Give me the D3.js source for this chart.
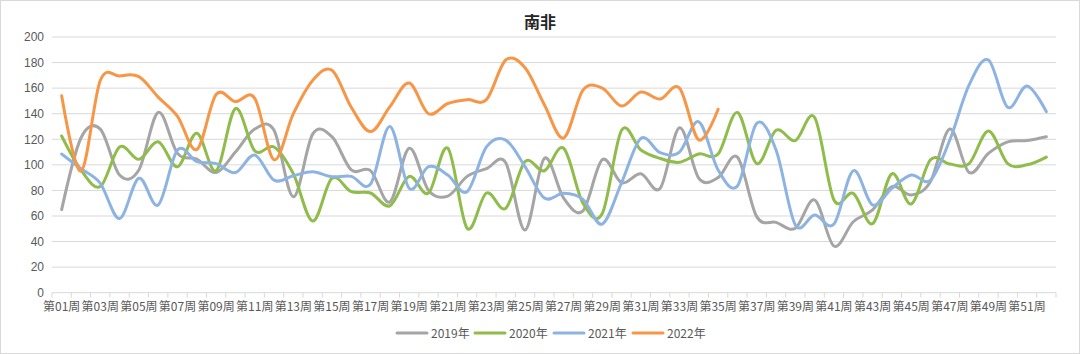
<!DOCTYPE html>
<html><head><meta charset="utf-8">
<script src="https://cdn.jsdelivr.net/npm/d3@7"></script>
<style>
html,body{margin:0;padding:0;background:#fff;}
svg{display:block;font-family:"Microsoft YaHei","Noto Sans CJK SC","DejaVu Sans",sans-serif;}
</style></head>
<body>
<svg id="chart" width="1080" height="354"></svg>
<script>
const title = "南非";
const weeks = d3.range(1, 53).map(i => "第" + String(i).padStart(2, "0") + "周");
const yTicks = [0,20,40,60,80,100,120,140,160,180,200];
const seriesNames = ["2019年","2020年","2021年","2022年"];
const seriesColors = ["#A5A5A5","#8FBC4A","#8DB3E2","#F79646"];

const v2019 = [65,121,128,92,96,141,109,104.5,94,110,128,127,75,124,122,96,95.5,71,113,80,75.6,91,97,101.7,49,105,74,64,104,86,93,81.7,129,89.5,90,106,59.5,55,50.4,72.5,36.5,55.5,64.7,83,76.4,87,128,94,109,118,119,122];
const v2020 = [122.6,96,83,114,104.3,118,98.5,124.7,95.4,144,111,114,93,56,89.5,79,78,68,91,78,113,50.4,78,66,102.5,95.4,113,70,62,127,111.6,105,102,108.5,108.5,141,101,127,119,137,72.5,77.7,54,93,69.4,104,100.7,101,126.5,101,100,106];
const v2021 = [108.5,97,85.5,58,89.5,68.6,111.6,102.5,101,94,107.7,88,91.5,94.6,90.7,91,85,130,81.7,98.6,92,79,114,119.4,98.6,74,77.7,73,53.7,86,120.7,109.5,110,133.7,96,83.5,132.5,111.6,53,60.8,53.7,95.4,68.6,81.7,92,88,119.4,162.5,182,145,161.7,141.6];
const v2022 = [154,95,166,169.5,169,153,138,112,155,149.5,152,104,140,166,174,145,126,145.5,164,140,148,151,151,182,176,147,121,158.5,160,146,157,151.5,160,119.5,143.5];

const seriesValues = [v2019, v2020, v2021, v2022];

const svg = d3.select("#chart");
const W = 1080, H = 354;
const margin = {left: 52, right: 1080 - 1056, top: 37, bottom: 354 - 292.7};

svg.append("rect").attr("x",0.5).attr("y",0.5).attr("width",W-1).attr("height",H-1)
  .attr("fill","#fff").attr("stroke","#d9d9d9");

const x = d3.scaleBand().domain(weeks).range([margin.left, W - margin.right]).paddingInner(0).paddingOuter(0);
const y = d3.scaleLinear().domain([0,200]).range([H - margin.bottom, margin.top]);

svg.append("g").selectAll("line").data(yTicks.filter(d => d > 0)).join("line")
  .attr("x1", margin.left).attr("x2", W - margin.right)
  .attr("y1", d => y(d)).attr("y2", d => y(d))
  .attr("stroke","#d9d9d9").attr("stroke-width",1);

const yAxis = d3.axisLeft(y).tickValues(yTicks).tickSize(0).tickPadding(8);
const gy = svg.append("g").attr("transform", `translate(${margin.left},0)`).call(yAxis);
gy.select(".domain").remove();
gy.selectAll("text").attr("font-size", 12).attr("fill", "#595959");

const gx = svg.append("g").attr("transform", `translate(0,${y(0)})`);
gx.append("line").attr("x1", margin.left).attr("x2", W - margin.right).attr("y1",0).attr("y2",0)
  .attr("stroke","#d9d9d9");
const bounds = d3.range(0, weeks.length + 1).map(i => margin.left + i * x.bandwidth());
gx.selectAll("line.tick").data(bounds).join("line").attr("class","tick")
  .attr("x1", d => d).attr("x2", d => d).attr("y1", 0).attr("y2", 5)
  .attr("stroke", "#d9d9d9");
gx.selectAll("text").data(weeks.filter((d,i) => i % 2 === 0)).join("text")
  .attr("x", d => x(d) + x.bandwidth()/2).attr("y", 18)
  .attr("text-anchor","middle").attr("font-size", 12).attr("fill","#595959")
  .text(d => d);

const line = d3.line()
  .x((d,i) => x(weeks[i]) + x.bandwidth()/2)
  .y(d => y(d))
  .curve(d3.curveCardinal.tension(0));

svg.append("g").selectAll("path").data(seriesValues).join("path")
  .attr("d", d => line(d))
  .attr("fill","none")
  .attr("stroke", (d,i) => seriesColors[i])
  .attr("stroke-width", 3)
  .attr("stroke-linejoin","round")
  .attr("stroke-linecap","round");

svg.append("text").attr("x", 540).attr("y", 28).attr("text-anchor","middle")
  .attr("font-size", 16).attr("font-weight","bold").attr("fill","#262626").text(title);

const legendX = [397, 475, 554, 633];
const lg = svg.append("g").selectAll("g").data(seriesNames).join("g")
  .attr("transform", (d,i) => `translate(${legendX[i]},333)`);
lg.append("line").attr("x1",0).attr("x2",30).attr("y1",0).attr("y2",0)
  .attr("stroke", (d,i) => seriesColors[i]).attr("stroke-width",3).attr("stroke-linecap","round");
lg.append("text").attr("x", 34).attr("y", 4.5).attr("font-size", 12).attr("fill","#595959").text(d => d);
</script>
</body></html>
